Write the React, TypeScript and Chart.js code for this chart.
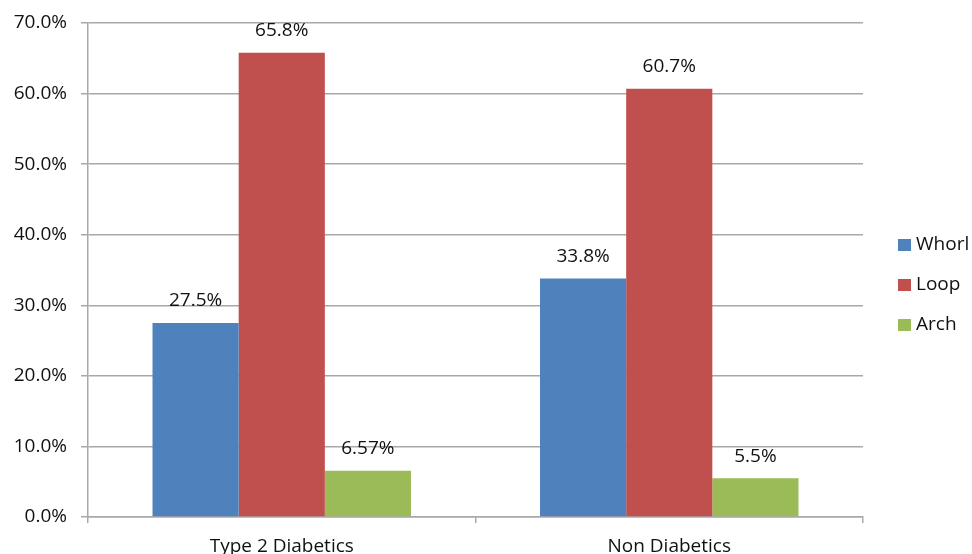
import React, { useEffect, useRef } from "react";
import { Chart, registerables } from "chart.js";

Chart.register(...registerables);

const categories = ["Type 2 Diabetics", "Non Diabetics"];
const whorl = [27.5, 33.8];
const loop = [65.8, 60.7];
const arch = [6.57, 5.5];
const whorlLabels = ["27.5%", "33.8%"];
const loopLabels = ["65.8%", "60.7%"];
const archLabels = ["6.57%", "5.5%"];
const seriesNames = ["Whorl", "Loop", "Arch"];
const colors = ["#4F81BD", "#C0504D", "#9BBB59"];

const FONT = "'Open Sans', Lato, sans-serif";
const GRID = "#a8a8a8";
const FS = 19;

const valueLabelPlugin = {
  id: "valueLabels",
  afterDatasetsDraw(chart: any) {
    const ctx = chart.ctx;
    const all = [whorlLabels, loopLabels, archLabels];
    ctx.save();
    ctx.font = `${FS}px ${FONT}`;
    ctx.fillStyle = "#111";
    ctx.textAlign = "center";
    ctx.textBaseline = "middle";
    chart.data.datasets.forEach((_ds: any, di: number) => {
      const meta = chart.getDatasetMeta(di);
      meta.data.forEach((bar: any, i: number) => {
        ctx.fillText(all[di][i], bar.x, bar.y - 22);
      });
    });
    ctx.restore();
  },
};

const legendPlugin = {
  id: "customLegend",
  afterDraw(chart: any) {
    const ctx = chart.ctx;
    const area = chart.chartArea;
    const cy = (area.top + area.bottom) / 2;
    ctx.save();
    ctx.font = `${FS}px ${FONT}`;
    ctx.textAlign = "left";
    ctx.textBaseline = "middle";
    chart.data.datasets.forEach((ds: any, i: number) => {
      const y = cy + 15 + (i - 1) * 40;
      ctx.fillStyle = ds.backgroundColor;
      ctx.fillRect(898, y - 6, 13, 12);
      ctx.fillStyle = "#111";
      ctx.fillText(ds.label, 916, y);
    });
    ctx.restore();
  },
};

export default function App() {
  const ref = useRef<HTMLCanvasElement | null>(null);
  useEffect(() => {
    if (!ref.current) return;
    Chart.defaults.font.family = FONT;
    Chart.defaults.color = "#111";
    const chart = new Chart(ref.current, {
      type: "bar",
      data: {
        labels: categories,
        datasets: [
          { label: seriesNames[0], data: whorl, backgroundColor: colors[0] },
          { label: seriesNames[1], data: loop, backgroundColor: colors[1] },
          { label: seriesNames[2], data: arch, backgroundColor: colors[2] },
        ],
      },
      options: {
        animation: false,
        responsive: true,
        maintainAspectRatio: false,
        layout: { padding: { top: 23, right: 109, left: 0, bottom: 0 } },
        datasets: {
          bar: { categoryPercentage: 0.667, barPercentage: 1 },
        },
        plugins: {
          legend: { display: false },
          tooltip: { enabled: false },
        },
        scales: {
          x: {
            grid: {
              offset: true,
              drawOnChartArea: false,
              drawTicks: true,
              tickLength: 6,
              color: GRID,
              lineWidth: 1.5,
            },
            border: { color: GRID, width: 1.5 },
            ticks: { font: { size: FS, family: FONT }, padding: 12, color: "#111" },
            afterFit(scale: any) {
              scale.height = 42;
              scale.paddingLeft = 0;
              scale.paddingRight = 0;
            },
          },
          y: {
            min: 0,
            max: 70,
            grid: { color: GRID, lineWidth: 1.5, tickLength: 7 },
            border: { color: GRID, width: 1.5 },
            ticks: {
              stepSize: 10,
              padding: 14,
              font: { size: FS, family: FONT },
              color: "#111",
              callback: (v: any) => Number(v).toFixed(1) + "%",
            },
            afterFit(scale: any) {
              scale.width = 88;
              scale.paddingTop = 0;
              scale.paddingBottom = 0;
            },
          },
        },
      },
      plugins: [valueLabelPlugin, legendPlugin],
    });
    return () => chart.destroy();
  }, []);
  return (
    <div style={{ position: "absolute", left: 0, top: 0, width: 972, height: 559 }}>
      <canvas ref={ref} />
    </div>
  );
}
